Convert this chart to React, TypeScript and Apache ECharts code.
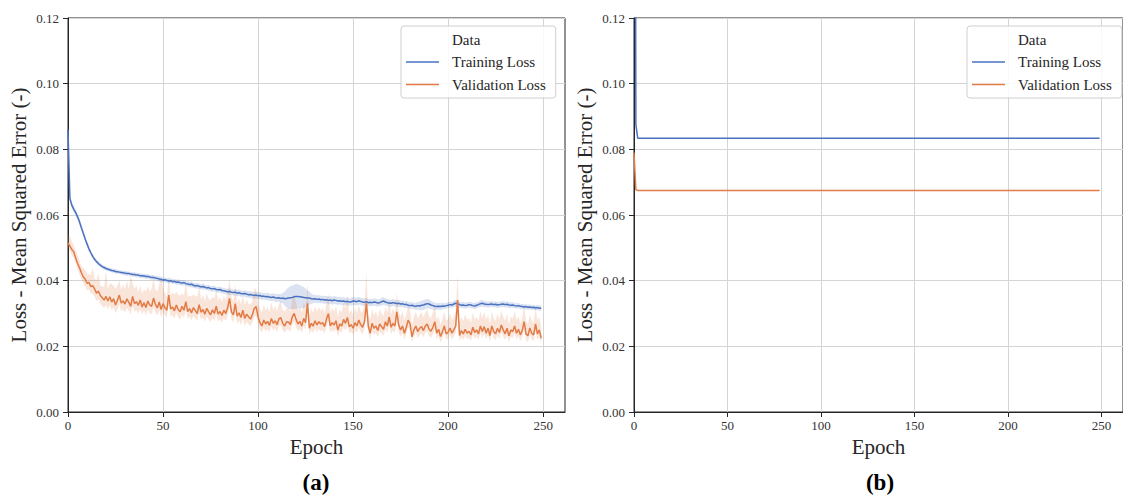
import React, { useEffect, useRef } from "react";
import * as echarts from "echarts";

// ---------- DATA (loss values in units of 1e-4) ----------
const epochsA: number[] = Array.from({ length: 250 }, (_, i) => i);
const xTicks = [0, 50, 100, 150, 200, 250];

const trainLossA = [
  860, 650, 630, 618, 608, 595, 580, 562, 545, 528,
  512, 497, 485, 474, 465, 458, 452, 447, 443, 440,
  437, 435, 433, 431, 430, 428, 427, 426, 425, 424,
  423, 422, 422, 420, 419, 419, 417, 417, 415, 415,
  414, 413, 413, 411, 410, 410, 408, 407, 405, 404,
  402, 403, 401, 399, 400, 397, 398, 395, 396, 394,
  393, 394, 391, 390, 388, 389, 386, 384, 385, 383,
  381, 382, 380, 378, 379, 376, 375, 376, 373, 372,
  373, 370, 369, 368, 366, 367, 365, 364, 365, 362,
  363, 361, 360, 361, 359, 357, 358, 356, 355, 356,
  354, 355, 352, 353, 351, 352, 350, 349, 350, 348,
  347, 348, 346, 347, 345, 346, 347, 348, 349, 351,
  352, 352, 351, 350, 349, 348, 347, 347, 345, 344,
  345, 343, 344, 342, 343, 341, 342, 340, 341, 339,
  341, 340, 338, 339, 337, 338, 336, 337, 335, 336,
  338, 337, 336, 339, 337, 335, 334, 336, 333, 334,
  333, 335, 334, 332, 333, 336, 338, 335, 333, 332,
  331, 333, 332, 330, 331, 329, 330, 327, 328, 325,
  324, 325, 323, 322, 324, 323, 325, 326, 328, 330,
  329, 326, 324, 322, 321, 322, 321, 323, 322, 324,
  325, 327, 326, 329, 331, 330, 327, 325, 326, 324,
  325, 327, 326, 324, 323, 325, 327, 330, 331, 329,
  328, 327, 328, 329, 327, 328, 326, 327, 328, 329,
  327, 328, 326, 325, 326, 324, 323, 324, 322, 321,
  320, 321, 319, 320, 318, 319, 317, 318, 316, 317,
];

const trainSpreadA = [
  20, 12, 10, 10, 9, 9, 9, 9, 8, 8,
  8, 8, 7, 7, 7, 6, 6, 6, 6, 6,
  6, 6, 6, 6, 7, 7, 6, 6, 6, 7,
  7, 7, 6, 6, 7, 7, 7, 6, 7, 7,
  7, 7, 7, 7, 8, 7, 7, 7, 8, 8,
  8, 7, 7, 8, 8, 8, 7, 8, 8, 8,
  8, 8, 8, 8, 8, 9, 8, 8, 9, 8,
  8, 9, 8, 8, 9, 8, 9, 9, 8, 9,
  9, 9, 9, 9, 9, 10, 9, 9, 10, 10,
  10, 10, 9, 10, 10, 10, 10, 11, 10, 10,
  10, 11, 11, 10, 11, 12, 11, 11, 12, 12,
  12, 12, 13, 16, 22, 28, 32, 35, 36, 37,
  38, 37, 36, 34, 32, 28, 24, 20, 16, 13,
  12, 12, 12, 11, 12, 12, 11, 12, 12, 12,
  12, 12, 12, 11, 12, 12, 12, 12, 11, 12,
  12, 12, 12, 12, 11, 12, 12, 12, 11, 11,
  11, 11, 12, 11, 11, 12, 12, 11, 11, 11,
  11, 11, 10, 10, 11, 10, 10, 10, 10, 10,
  10, 10, 10, 11, 12, 13, 14, 15, 15, 15,
  14, 13, 12, 11, 10, 10, 10, 10, 9, 9,
  9, 9, 9, 10, 10, 10, 9, 9, 9, 9,
  9, 9, 9, 9, 9, 9, 9, 10, 10, 10,
  9, 9, 9, 9, 9, 9, 9, 9, 9, 9,
  9, 9, 9, 9, 9, 8, 8, 8, 8, 8,
  8, 8, 8, 8, 8, 8, 8, 8, 8, 8,
];

const valLossA = [
  515, 505, 495, 488, 470, 453, 440, 425, 412, 405,
  392, 395, 382, 385, 375, 362, 368, 355, 348, 341,
  352, 338, 351, 335, 345, 326, 340, 356, 332, 338,
  329, 345, 334, 322, 352, 330, 336, 325, 341, 320,
  333, 318, 338, 326, 322, 347, 328, 317, 335, 312,
  330, 318, 310, 356, 314, 320, 308, 326, 312, 305,
  322, 310, 336, 306, 315, 302, 318, 309, 300, 327,
  304, 312, 298, 316, 305, 296, 311, 300, 322, 298,
  306, 294, 310, 300, 318, 346, 305, 296, 330, 292,
  302, 288, 310, 285, 298, 290, 283, 296, 315, 321,
  290, 272, 262, 280, 268, 276, 264, 285, 270, 278,
  266, 284, 287, 270, 262, 275, 274, 266, 290, 300,
  282, 268, 276, 262, 285, 272, 331, 255, 270, 262,
  278, 265, 275, 268, 272, 260, 283, 300, 262, 272,
  265, 278, 250, 268, 262, 282, 270, 288, 260, 266,
  255, 272, 262, 280, 266, 258, 275, 331, 262, 240,
  270, 255, 262, 248, 268, 260, 252, 275, 262, 290,
  258, 270, 262, 305, 265, 250, 262, 240, 258, 280,
  268, 229, 250, 262, 245, 255, 260, 248, 262, 268,
  252, 246, 258, 275, 240, 252, 230, 244, 262, 238,
  243, 256, 240, 250, 262, 341, 233, 248, 238, 252,
  240, 246, 235, 258, 242, 250, 238, 262, 245, 260,
  240, 255, 233, 262, 245, 238, 255, 242, 265, 250,
  238, 255, 232, 250, 245, 262, 240, 252, 235, 248,
  275, 238, 232, 256, 240, 235, 268, 238, 250, 224,
];

const valUpA = [
  25, 30, 25, 20, 22, 25, 22, 20, 25, 28,
  30, 25, 35, 55, 30, 40, 55, 30, 35, 40,
  80, 35, 40, 55, 40, 50, 45, 45, 40, 50,
  45, 55, 40, 95, 40, 45, 50, 40, 45, 40,
  40, 50, 45, 40, 55, 60, 45, 50, 55, 100,
  50, 45, 40, 60, 40, 45, 50, 40, 45, 50,
  40, 45, 60, 45, 40, 50, 40, 45, 50, 55,
  40, 45, 40, 45, 40, 45, 40, 45, 50, 40,
  45, 40, 45, 40, 50, 60, 45, 40, 60, 40,
  45, 40, 45, 40, 45, 40, 45, 40, 60, 55,
  40, 45, 40, 45, 40, 45, 40, 50, 40, 45,
  40, 45, 50, 40, 45, 40, 45, 40, 55, 60,
  50, 40, 45, 40, 50, 45, 60, 40, 45, 40,
  45, 40, 45, 40, 45, 40, 50, 60, 40, 45,
  40, 45, 40, 45, 40, 50, 45, 70, 40, 45,
  40, 45, 40, 45, 40, 45, 50, 93, 40, 40,
  45, 40, 45, 40, 45, 40, 40, 45, 40, 50,
  40, 45, 40, 60, 40, 40, 45, 40, 40, 45,
  40, 35, 40, 45, 40, 40, 45, 40, 40, 45,
  40, 40, 45, 50, 40, 40, 35, 40, 45, 40,
  40, 45, 40, 40, 45, 76, 40, 40, 40, 45,
  40, 40, 35, 45, 40, 40, 40, 45, 40, 45,
  40, 40, 35, 45, 40, 40, 45, 40, 45, 40,
  40, 45, 35, 40, 40, 45, 40, 40, 35, 40,
  50, 40, 35, 40, 40, 35, 50, 40, 40, 35,
];

const valDownA = [
  15, 15, 18, 18, 18, 18, 20, 20, 20, 22,
  22, 22, 22, 24, 24, 24, 25, 25, 25, 25,
  26, 25, 27, 25, 26, 25, 26, 28, 25, 26,
  25, 27, 26, 24, 28, 25, 26, 25, 27, 24,
  25, 24, 26, 25, 24, 28, 25, 24, 26, 23,
  25, 24, 23, 28, 24, 25, 23, 25, 24, 23,
  25, 24, 27, 23, 24, 23, 25, 24, 23, 26,
  23, 24, 23, 25, 24, 23, 24, 23, 26, 23,
  24, 23, 24, 23, 25, 28, 24, 23, 26, 23,
  24, 23, 25, 23, 24, 23, 22, 24, 26, 27,
  24, 22, 21, 23, 22, 23, 22, 24, 22, 23,
  22, 23, 24, 22, 21, 23, 23, 22, 24, 25,
  23, 22, 23, 21, 24, 22, 27, 20, 22, 21,
  23, 21, 22, 22, 22, 21, 23, 25, 21, 22,
  21, 23, 20, 22, 21, 23, 22, 24, 21, 21,
  20, 22, 21, 23, 22, 21, 22, 27, 21, 19,
  22, 20, 21, 20, 22, 21, 20, 22, 21, 23,
  21, 22, 21, 25, 21, 20, 21, 19, 21, 23,
  22, 18, 20, 21, 20, 21, 21, 20, 21, 22,
  20, 20, 21, 22, 19, 20, 18, 20, 21, 19,
  20, 21, 19, 20, 21, 27, 19, 20, 19, 20,
  19, 20, 19, 21, 20, 20, 19, 21, 20, 21,
  19, 21, 19, 21, 20, 19, 21, 20, 21, 20,
  19, 21, 19, 20, 20, 21, 19, 20, 19, 20,
  22, 19, 19, 21, 20, 19, 22, 19, 20, 18,
];

// Panel (b): values at the epochs where the curves change, then flat
const epochsB = [0, 1, 2, 249];
const trainLossB = [0.38, 0.0875, 0.0834, 0.0834];
const valLossB = [0.079, 0.0677, 0.0675, 0.0675];

const seriesNames = ["Training Loss", "Validation Loss"];
const legendTitle = "Data";
const yTitle = "Loss - Mean Squared Error (-)";
const xTitle = "Epoch";
const panelLabels = ["(a)", "(b)"];

// ---------- STYLE ----------
const FONT = "'Liberation Serif', 'Times New Roman', serif";
const BLUE = "#4a72c0";
const ORANGE = "#e27b45";
const BLUE_BAND = "rgba(74,114,192,0.2)";
const ORANGE_BAND = "rgba(226,123,69,0.2)";
const DARK = "#262626";
const GRID_C = "#d4d4d4";
const X_MAX = 261.5;
const U = 1e-4;

function xAxisCfg(gridIndex: number) {
  return {
    type: "value",
    gridIndex,
    min: 0,
    max: X_MAX,
    interval: 50,
    name: xTitle,
    nameLocation: "middle",
    nameGap: 21,
    nameTextStyle: { fontFamily: FONT, fontSize: 21, color: DARK },
    axisLine: { show: true, onZero: false, lineStyle: { color: DARK, width: 1 } },
    axisTick: { show: true, length: 5, lineStyle: { color: DARK }, customValues: xTicks },
    axisLabel: { fontFamily: FONT, fontSize: 13, color: "#333", margin: 7, customValues: xTicks },
    splitLine: { show: true, lineStyle: { color: GRID_C, width: 1 } },
  };
}

function yAxisCfg(gridIndex: number) {
  return {
    type: "value",
    gridIndex,
    min: 0,
    max: 0.12,
    interval: 0.02,
    name: yTitle,
    nameLocation: "middle",
    nameGap: 39,
    nameTextStyle: { fontFamily: FONT, fontSize: 21, color: DARK },
    axisLine: { show: true, onZero: false, lineStyle: { color: DARK, width: 1 } },
    axisTick: { show: true, length: 5, lineStyle: { color: DARK } },
    axisLabel: {
      fontFamily: FONT,
      fontSize: 13,
      color: "#333",
      margin: 9,
      formatter: (v: number) => v.toFixed(2),
    },
    splitLine: { show: true, lineStyle: { color: GRID_C, width: 1 } },
  };
}

function legendCfg(left: number) {
  return {
    orient: "vertical",
    left,
    top: 26,
    padding: [6, 10, 6, 5],
    backgroundColor: "rgba(255,255,255,0.85)",
    borderColor: "#cfcfcf",
    borderWidth: 1,
    borderRadius: 3,
    itemWidth: 33,
    itemHeight: 1.5,
    itemGap: 7.5,
    icon: "rect",
    selectedMode: false,
    textStyle: { fontFamily: FONT, fontSize: 15, lineHeight: 15, color: DARK, padding: [0, 0, 0, 8] },
    data: [{ name: legendTitle, icon: "none" }, seriesNames[0], seriesNames[1]],
  };
}

// band drawn as one polygon through the axis scales (api.coord)
function bandSeries(name: string, lo: number[], hi: number[], fill: string) {
  const rows = epochsA.map((e, i) => [e, lo[i], hi[i]]);
  return {
    type: "custom",
    name,
    xAxisIndex: 0,
    yAxisIndex: 0,
    silent: true,
    clip: true,
    z: 1,
    data: rows,
    encode: { x: 0, y: [1, 2] },
    renderItem: (params: any, api: any) => {
      if (params.dataIndex !== 0) return null;
      const upper = rows.map((r) => api.coord([r[0], r[2]]));
      const lower = rows.map((r) => api.coord([r[0], r[1]])).reverse();
      return {
        type: "polygon",
        shape: { points: upper.concat(lower) },
        style: { fill, stroke: "none" },
      };
    },
  };
}

export default function App() {
  const ref = useRef<HTMLDivElement>(null);

  useEffect(() => {
    if (!ref.current) return;
    const chart = echarts.init(ref.current, null, { renderer: "svg" });

    const trainLo = trainLossA.map((v, i) => (v - trainSpreadA[i]) * U);
    const trainHi = trainLossA.map((v, i) => (v + trainSpreadA[i]) * U);
    const valLo = valLossA.map((v, i) => (v - valDownA[i]) * U);
    const valHi = valLossA.map((v, i) => (v + valUpA[i]) * U);
    const trainLine = epochsA.map((e, i) => [e, trainLossA[i] * U]);
    const valLine = epochsA.map((e, i) => [e, valLossA[i] * U]);

    const lineSeries = (name: string, data: number[][], color: string, idx: number) => ({
      type: "line",
      name,
      data,
      xAxisIndex: idx,
      yAxisIndex: idx,
      showSymbol: false,
      symbol: "none",
      color,
      lineStyle: { color, width: 1.5 },
      z: 3,
    });

    const option: any = {
      animation: false,
      grid: [
        { left: 68, top: 18, width: 497, height: 394, show: true, borderColor: DARK, borderWidth: 1, backgroundColor: "transparent" },
        { left: 634, top: 18, width: 497, height: 394, show: true, borderColor: DARK, borderWidth: 1, backgroundColor: "transparent" },
      ],
      xAxis: [xAxisCfg(0), xAxisCfg(1)],
      yAxis: [yAxisCfg(0), yAxisCfg(1)],
      legend: [legendCfg(401), legendCfg(967)],
      series: [
        bandSeries("trainBand", trainLo, trainHi, BLUE_BAND),
        bandSeries("valBand", valLo, valHi, ORANGE_BAND),
        { type: "line", name: legendTitle, data: [], xAxisIndex: 0, yAxisIndex: 0 },
        lineSeries(seriesNames[0], trainLine, BLUE, 0),
        lineSeries(seriesNames[1], valLine, ORANGE, 0),
        lineSeries(seriesNames[0], epochsB.map((e, i) => [e, trainLossB[i]]), BLUE, 1),
        lineSeries(seriesNames[1], epochsB.map((e, i) => [e, valLossB[i]]), ORANGE, 1),
      ],
      graphic: [
        {
          type: "text",
          x: 316,
          y: 482,
          style: { text: panelLabels[0], fontFamily: FONT, fontSize: 23, fontWeight: "bold", fill: "#000", align: "center", verticalAlign: "middle" },
        },
        {
          type: "text",
          x: 880,
          y: 482,
          style: { text: panelLabels[1], fontFamily: FONT, fontSize: 23, fontWeight: "bold", fill: "#000", align: "center", verticalAlign: "middle" },
        },
      ],
    };

    chart.setOption(option);
    return () => chart.dispose();
  }, []);

  return (
    <div
      ref={ref}
      style={{ position: "absolute", left: 0, top: 0, width: 1123, height: 498, background: "#fff" }}
    />
  );
}
